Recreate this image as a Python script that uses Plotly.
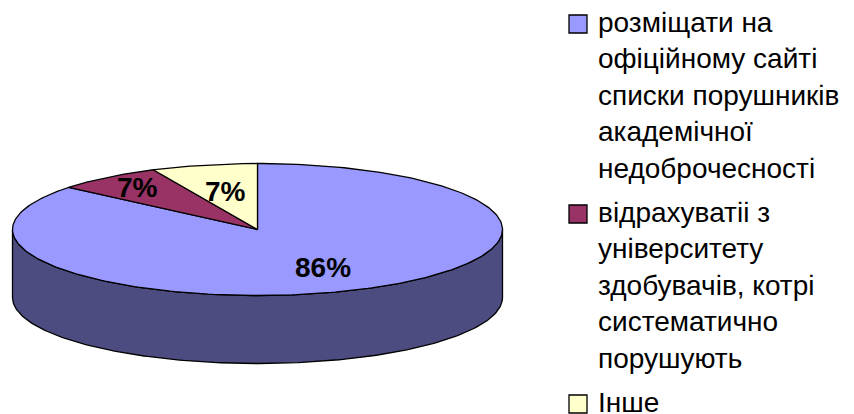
import numpy as np
import plotly.graph_objects as go

# ---- data ----
categories = [
    "розміщати на<br>офіційному сайті<br>списки порушників<br>академічної<br>недоброчесності",
    "відрахуватіі з<br>університету<br>здобувачів, котрі<br>систематично<br>порушують",
    "Інше",
]
values = [86, 7, 7]
percent_labels = ["86%", "7%", "7%"]

# ---- style ----
top_colors = ["#9999FF", "#993366", "#FFFFCC"]
side_colors = ["#4C4C80", "#4D1A33", "#808066"]
W, H = 854, 414
cx, cy, rx, ry, depth = 257.5, 229.5, 245.0, 66.0, 68.0
label_frac = [0.63, 0.8, 0.59]
FONT = "Arial, Liberation Sans, sans-serif"

fig = go.Figure()

total = float(sum(values))
bounds = np.concatenate([[0.0], np.cumsum(values) / total * 360.0])  # clockwise from 12 o'clock


def pt(theta_deg, dy=0.0):
    t = np.radians(theta_deg)
    return cx + rx * np.sin(t), cy - ry * np.cos(t) + dy


# side wall (front half: 90..270 deg clockwise from top)
for i in range(len(values)):
    a0, a1 = max(bounds[i], 90.0), min(bounds[i + 1], 270.0)
    if a1 <= a0:
        continue
    th = np.linspace(a0, a1, 200)
    xs_t, ys_t = pt(th)
    xs_b, ys_b = pt(th[::-1], depth)
    xs = np.concatenate([xs_t, xs_b, xs_t[:1]])
    ys = np.concatenate([ys_t, ys_b, ys_t[:1]])
    fig.add_trace(go.Scatter(x=xs, y=ys, mode="lines", fill="toself",
                             fillcolor=side_colors[i],
                             line=dict(color="black", width=1.3),
                             hoverinfo="skip", showlegend=False))

# top face slices
for i in range(len(values)):
    th = np.linspace(bounds[i], bounds[i + 1], 300)
    xs_a, ys_a = pt(th)
    xs = np.concatenate([[cx], xs_a, [cx]])
    ys = np.concatenate([[cy], ys_a, [cy]])
    fig.add_trace(go.Scatter(x=xs, y=ys, mode="lines", fill="toself",
                             fillcolor=top_colors[i],
                             line=dict(color="black", width=1.3),
                             hoverinfo="skip", showlegend=False))

# percentage labels
for i in range(len(values)):
    mid = (bounds[i] + bounds[i + 1]) / 2.0
    t = np.radians(mid)
    lx = cx + rx * label_frac[i] * np.sin(t)
    ly = cy - ry * label_frac[i] * np.cos(t)
    fig.add_annotation(x=lx, y=ly, text="<b>%s</b>" % percent_labels[i],
                       showarrow=False, xanchor="center", yanchor="middle",
                       font=dict(family=FONT, size=28, color="black"))

# legend
leg_x, leg_y0, leg_step = 569, 15, 190
for i, cat in enumerate(categories):
    y0 = leg_y0 + i * leg_step
    fig.add_shape(type="rect", x0=leg_x, x1=leg_x + 18, y0=y0, y1=y0 + 18,
                  fillcolor=top_colors[i], line=dict(color="black", width=1.3))
    fig.add_annotation(x=leg_x + 27, y=y0 - 10, text=cat, showarrow=False,
                       xanchor="left", yanchor="top", align="left",
                       font=dict(family=FONT, size=28, color="black"))

fig.update_xaxes(range=[0, W], visible=False, fixedrange=True)
fig.update_yaxes(range=[H, 0], visible=False, fixedrange=True)
fig.update_layout(width=W, height=H, margin=dict(l=0, r=0, t=0, b=0),
                  paper_bgcolor="white", plot_bgcolor="white", showlegend=False)

fig.write_html("out.html", config={"displayModeBar": False},
               post_script="document.body.style.margin='0px';document.body.style.overflow='hidden';")
